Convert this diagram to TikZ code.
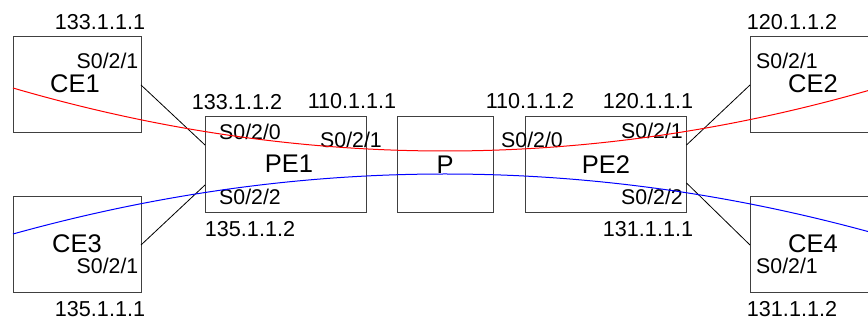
\documentclass[tikz,border=0pt]{standalone}
\usepackage{fontspec}
\setmainfont{Liberation Sans}
\begin{document}
\begin{tikzpicture}[x=1pt,y=-1pt,
  box/.style={draw=black!75, line width=1pt, outer sep=0pt, inner sep=0pt},
  cebox/.style={box, minimum width=128pt, minimum height=96pt},
  pebox/.style={box, minimum width=161pt, minimum height=96pt},
  pbox/.style={box, minimum width=96pt, minimum height=96pt},
  nm/.style={inner sep=0pt, font=\fontsize{25.5}{28}\selectfont},
  port/.style={inner sep=0pt, font=\fontsize{21.3}{24}\selectfont},
  ip/.style={inner sep=0pt, font=\fontsize{21.6}{24}\selectfont},
  link/.style={draw=black, line width=0.8pt},
  lsp/.style={line width=1pt}]
\useasboundingbox (0,0) rectangle (868,320);
\clip (0,0) rectangle (868,320);
% boxes
\node[cebox] (ce1) at (77,85) {};
\node[cebox] (ce3) at (77,245) {};
\node[pebox] (pe1) at (285.5,165) {};
\node[pbox] (p) at (445,165) {};
\node[pebox] (pe2) at (606,165) {};
\node[cebox] (ce2) at (814,85) {};
\node[cebox] (ce4) at (814,245) {};
% names
\node[nm] (ce1n) at (75,84) {CE1};
\node[nm] (ce3n) at (77,244) {CE3};
\node[nm] (pe1n) at (289,164) {PE1};
\node[nm] (pn) at (445,165) {P};
\node[nm] (pe2n) at (606,165) {PE2};
\node[nm] (ce2n) at (813,84) {CE2};
\node[nm] (ce4n) at (813,244) {CE4};
% ports
\node[port] (p1) at (107.5,61) {S0/2/1};
\node[port] (p2) at (107.5,266) {S0/2/1};
\node[port] (p3) at (250,132) {S0/2/0};
\node[port] (p4) at (351,140) {S0/2/1};
\node[port] (p5) at (250,197) {S0/2/2};
\node[port] (p6) at (532,140) {S0/2/0};
\node[port] (p7) at (652,131) {S0/2/1};
\node[port] (p8) at (652,197) {S0/2/2};
\node[port] (p9) at (787,61) {S0/2/1};
\node[port] (p10) at (787,266) {S0/2/1};
% ips
\node[ip] (i1) at (100,22) {133.1.1.1};
\node[ip] (i2) at (100,309) {135.1.1.1};
\node[ip] (i3) at (237,102) {133.1.1.2};
\node[ip] (i4) at (352,101) {110.1.1.1};
\node[ip] (i5) at (250,229) {135.1.1.2};
\node[ip] (i6) at (530,101) {110.1.1.2};
\node[ip] (i7) at (648,101) {120.1.1.1};
\node[ip] (i8) at (648,229) {131.1.1.1};
\node[ip] (i9) at (792,22) {120.1.1.2};
\node[ip] (i10) at (792,309) {131.1.1.2};
% links
\draw[link] (ce1.east) -- ([yshift=20pt]pe1.west);
\draw[link] (ce3.east) -- ([yshift=-20pt]pe1.west);
\draw[link] ([yshift=20pt]pe2.east) -- (ce2.west);
\draw[link] ([yshift=-18pt]pe2.east) -- (ce4.west);
% LSP curves
\coordinate (rs) at (13,88);
\coordinate (re) at (877,88);
\coordinate (bs) at (13,234);
\coordinate (be) at (877,234);
\draw[lsp, red] (rs) .. controls (301,172) and (589,172) .. (re);
\draw[lsp, blue] (bs) .. controls (301,154) and (589,154) .. (be);
\end{tikzpicture}
\end{document}
